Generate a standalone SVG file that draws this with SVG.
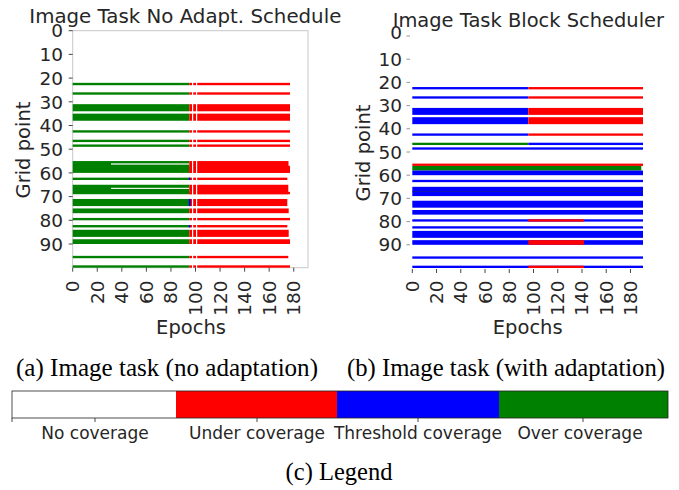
<svg xmlns="http://www.w3.org/2000/svg" width="679" height="490" viewBox="0 0 679 490">
<style>
.t{font-family:"DejaVu Sans",sans-serif;fill:#262626}
.tk{font-family:"DejaVu Sans",sans-serif;font-size:18.5px;fill:#262626}
.lg{font-family:"DejaVu Sans",sans-serif;font-size:17px;fill:#262626}
.cap{font-family:"Liberation Serif","Times New Roman",serif;font-size:24.5px;fill:#000}
.g{fill:#008000}.r{fill:#ff0000}.b{fill:#0000ff}.w{fill:#ffffff}
.tick{stroke:#333;stroke-width:0.9}
.tick2{stroke:#888;stroke-width:0.9}
</style>
<rect width="679" height="490" fill="#fff"/>

<g id="panel-a">
  <text class="t" x="29.3" y="22.7" font-size="19" textLength="312" lengthAdjust="spacingAndGlyphs">Image Task No Adapt. Schedule</text>
  <rect x="72.7" y="30.7" width="235.3" height="237" fill="none" stroke="#c8c8c8" stroke-width="1"/>
  <g id="bars-a">
    <rect class="g" x="72.7" y="82.84" width="116.6" height="2.37"/><rect class="r" x="189.3" y="82.84" width="100.7" height="2.37"/>
    <rect class="g" x="72.7" y="92.32" width="116.6" height="2.37"/><rect class="r" x="189.3" y="92.32" width="100.7" height="2.37"/>
    <rect class="g" x="72.7" y="104.17" width="116.6" height="7.11"/><rect class="r" x="189.3" y="104.17" width="100.7" height="7.11"/>
    <rect class="g" x="72.7" y="113.65" width="116.6" height="7.11"/><rect class="r" x="189.3" y="113.65" width="100.7" height="7.11"/>
    <rect class="g" x="72.7" y="130.24" width="116.6" height="2.37"/><rect class="r" x="189.3" y="130.24" width="100.7" height="2.37"/>
    <rect class="g" x="72.7" y="139.72" width="116.6" height="2.37"/><rect class="r" x="189.3" y="139.72" width="100.7" height="2.37"/>
    <rect class="g" x="72.7" y="144.46" width="116.6" height="2.37"/><rect class="r" x="189.3" y="144.46" width="100.7" height="2.37"/>
    <rect class="g" x="72.7" y="161.05" width="116.6" height="11.85"/><rect class="r" x="189.3" y="161.05" width="99.2" height="11.85"/><rect class="r" x="189.3" y="165.8" width="100.7" height="7.1"/>
    <rect class="w" x="111" y="163.4" width="78" height="1.2"/>
    <rect class="g" x="72.7" y="177.64" width="116.6" height="2.37"/><rect class="r" x="189.3" y="177.64" width="98" height="2.37"/><rect class="b" x="188.8" y="177.64" width="1.5" height="2.37"/>
    <rect class="g" x="72.7" y="184.75" width="116.6" height="9.48"/><rect class="r" x="189.3" y="184.75" width="99" height="9.48"/><rect class="r" x="189.3" y="191.86" width="100.7" height="2.37"/>
    <rect class="w" x="111" y="187.8" width="78" height="1.1"/>
    <rect class="g" x="72.7" y="198.97" width="116.6" height="7.11"/><rect class="r" x="189.3" y="198.97" width="98" height="7.11"/><rect class="b" x="188.8" y="198.97" width="1.8" height="7.11"/>
    <rect class="g" x="72.7" y="208.45" width="116.6" height="4.74"/><rect class="r" x="189.3" y="208.45" width="99.4" height="4.74"/>
    <rect class="g" x="72.7" y="217.93" width="116.6" height="2.37"/><rect class="r" x="189.3" y="217.93" width="100.7" height="2.37"/>
    <rect class="g" x="72.7" y="225.04" width="116.6" height="2.37"/><rect class="r" x="189.3" y="225.04" width="98" height="2.37"/><rect class="b" x="188.8" y="225.04" width="1.5" height="2.37"/>
    <rect class="g" x="72.7" y="229.78" width="116.6" height="7.11"/><rect class="r" x="189.3" y="229.78" width="99.4" height="7.11"/>
    <rect class="g" x="72.7" y="239.26" width="116.6" height="4.74"/><rect class="r" x="189.3" y="239.26" width="100.7" height="4.74"/>
    <rect class="g" x="72.7" y="255.85" width="116.6" height="2.37"/><rect class="r" x="189.3" y="255.85" width="99" height="2.37"/>
    <rect class="g" x="72.7" y="265.33" width="116.6" height="2.37"/><rect class="r" x="189.3" y="265.33" width="100.7" height="2.37"/>
    <rect class="w" x="192.0" y="80" width="1.2" height="190"/>
    <rect class="w" x="196.0" y="80" width="1.2" height="190"/>
  </g>
  <g id="yaxis-a">
    <path class="tick" d="M68.7 30.7H72.7M68.7 54.4H72.7M68.7 78.1H72.7M68.7 101.8H72.7M68.7 125.5H72.7M68.7 149.2H72.7M68.7 172.9H72.7M68.7 196.6H72.7M68.7 220.3H72.7M68.7 244H72.7"/>
    <g class="tk" text-anchor="end">
      <text x="63" y="37.4">0</text><text x="63" y="61.1">10</text><text x="63" y="84.8">20</text><text x="63" y="108.5">30</text><text x="63" y="132.2">40</text>
      <text x="63" y="155.9">50</text><text x="63" y="179.6">60</text><text x="63" y="203.3">70</text><text x="63" y="227">80</text><text x="63" y="250.7">90</text>
    </g>
    <text class="t" font-size="19.5" text-anchor="middle" transform="translate(30,150) rotate(-90)">Grid point</text>
  </g>
  <g id="xaxis-a">
    <path class="tick" d="M72.7 267.7V271.7M97.26 267.7V271.7M121.82 267.7V271.7M146.38 267.7V271.7M170.94 267.7V271.7M195.5 267.7V271.7M220.06 267.7V271.7M244.62 267.7V271.7M269.18 267.7V271.7M293.74 267.7V271.7"/>
    <g class="tk" text-anchor="end">
      <text transform="translate(79.2,280.5) rotate(-90)">0</text>
      <text transform="translate(103.76,280.5) rotate(-90)">20</text>
      <text transform="translate(128.32,280.5) rotate(-90)">40</text>
      <text transform="translate(152.88,280.5) rotate(-90)">60</text>
      <text transform="translate(177.44,280.5) rotate(-90)">80</text>
      <text transform="translate(202,280.5) rotate(-90)">100</text>
      <text transform="translate(226.56,280.5) rotate(-90)">120</text>
      <text transform="translate(251.12,280.5) rotate(-90)">140</text>
      <text transform="translate(275.68,280.5) rotate(-90)">160</text>
      <text transform="translate(300.24,280.5) rotate(-90)">180</text>
    </g>
    <text class="t" font-size="19.5" x="191" y="334" text-anchor="middle">Epochs</text>
  </g>
</g>

<g id="panel-b">
  <text class="t" x="392.7" y="27.3" font-size="19" textLength="271.3" lengthAdjust="spacingAndGlyphs">Image Task Block Scheduler</text>
  <g id="bars-b">
    <rect class="b" x="412.3" y="87.04" width="116" height="2.32"/><rect class="r" x="528.3" y="87.04" width="114.7" height="2.32"/>
    <rect class="b" x="412.3" y="96.32" width="116" height="2.32"/><rect class="r" x="528.3" y="96.32" width="114.7" height="2.32"/>
    <rect class="b" x="412.3" y="107.92" width="116" height="6.96"/><rect class="r" x="528.3" y="107.92" width="114.7" height="6.96"/>
    <rect class="b" x="412.3" y="117.2" width="116" height="6.96"/><rect class="r" x="528.3" y="117.2" width="114.7" height="6.96"/>
    <rect class="b" x="412.3" y="133.44" width="116" height="2.32"/><rect class="r" x="528.3" y="133.44" width="114.7" height="2.32"/>
    <rect class="g" x="412.3" y="142.72" width="116" height="2.32"/><rect class="b" x="528.3" y="142.72" width="114.7" height="2.32"/>
    <rect class="b" x="412.3" y="147.36" width="230.7" height="2.32"/>
    <rect class="r" x="412.3" y="163.6" width="230.7" height="2.32"/>
    <rect class="g" x="412.3" y="165.92" width="229" height="4.64"/>
    <rect class="b" x="412.3" y="170.56" width="230.7" height="4.64"/>
    <rect class="b" x="412.3" y="179.84" width="230.7" height="2.32"/>
    <rect class="b" x="412.3" y="186.8" width="230.7" height="9.28"/>
    <rect x="412.3" y="191.2" width="230.7" height="0.8" fill="#1a1a9a"/>
    <rect class="b" x="412.3" y="200.72" width="230.7" height="6.96"/>
    <rect class="b" x="412.3" y="210" width="230.7" height="4.64"/>
    <rect class="b" x="412.3" y="219.28" width="230.7" height="2.32"/><rect class="r" x="528.3" y="219.28" width="55.7" height="2.32"/>
    <rect class="b" x="412.3" y="226.24" width="230.7" height="2.32"/>
    <rect class="b" x="412.3" y="230.88" width="230.7" height="6.96"/>
    <rect class="b" x="412.3" y="240.16" width="230.7" height="4.64"/><rect class="r" x="528.3" y="240.16" width="55.7" height="4.64"/>
    <rect class="b" x="412.3" y="256.4" width="230.7" height="2.32"/>
    <rect class="b" x="412.3" y="265.68" width="230.7" height="2.32"/><rect class="r" x="528.3" y="265.68" width="55.7" height="2.32"/>
  </g>
  <g id="yaxis-b">
    <path class="tick2" d="M406.5 36H410M406.5 59.2H410M406.5 82.4H410M406.5 105.6H410M406.5 128.8H410M406.5 152H410M406.5 175.2H410M406.5 198.4H410M406.5 221.6H410M406.5 244.8H410"/>
    <g class="tk" text-anchor="end">
      <text x="402" y="39">0</text><text x="402" y="65.7">10</text><text x="402" y="88.9">20</text><text x="402" y="112.1">30</text><text x="402" y="135.3">40</text>
      <text x="402" y="158.5">50</text><text x="402" y="181.7">60</text><text x="402" y="204.9">70</text><text x="402" y="228.1">80</text><text x="402" y="251.3">90</text>
    </g>
    <text class="t" font-size="19.5" text-anchor="middle" transform="translate(370,153) rotate(-90)">Grid point</text>
  </g>
  <g id="xaxis-b">
    <path class="tick" d="M412.3 269V273M436.54 269V273M460.78 269V273M485.02 269V273M509.26 269V273M533.5 269V273M557.74 269V273M581.98 269V273M606.22 269V273M630.46 269V273"/>
    <g class="tk" text-anchor="end">
      <text transform="translate(418.8,280.5) rotate(-90)">0</text>
      <text transform="translate(443.04,280.5) rotate(-90)">20</text>
      <text transform="translate(467.28,280.5) rotate(-90)">40</text>
      <text transform="translate(491.52,280.5) rotate(-90)">60</text>
      <text transform="translate(515.76,280.5) rotate(-90)">80</text>
      <text transform="translate(540,280.5) rotate(-90)">100</text>
      <text transform="translate(564.24,280.5) rotate(-90)">120</text>
      <text transform="translate(588.48,280.5) rotate(-90)">140</text>
      <text transform="translate(612.72,280.5) rotate(-90)">160</text>
      <text transform="translate(636.96,280.5) rotate(-90)">180</text>
    </g>
    <text class="t" font-size="19.5" x="527.7" y="334" text-anchor="middle">Epochs</text>
  </g>
</g>

<g id="captions-ab">
  <text class="cap" x="16" y="376" textLength="302" lengthAdjust="spacingAndGlyphs">(a) Image task (no adaptation)</text>
  <text class="cap" x="347" y="376" textLength="318" lengthAdjust="spacingAndGlyphs">(b) Image task (with adaptation)</text>
</g>

<g id="legend">
  <rect x="12" y="391" width="164" height="27" fill="#fff"/>
  <rect class="r" x="176" y="391" width="161" height="27"/>
  <rect class="b" x="337" y="391" width="162" height="27"/>
  <rect class="g" x="499" y="391" width="169" height="27"/>
  <rect x="12" y="391" width="656" height="27" fill="none" stroke="#222" stroke-width="0.8"/>
  <path class="tick" d="M12 418V422M95 418V422M257 418V422M418 418V422M583 418V422"/>
  <g class="lg" text-anchor="middle">
    <text x="95" y="439">No coverage</text>
    <text x="257" y="439">Under coverage</text>
    <text x="418" y="439">Threshold coverage</text>
    <text x="580" y="439">Over coverage</text>
  </g>
  <text class="cap" x="339" y="480" text-anchor="middle">(c) Legend</text>
</g>
</svg>
